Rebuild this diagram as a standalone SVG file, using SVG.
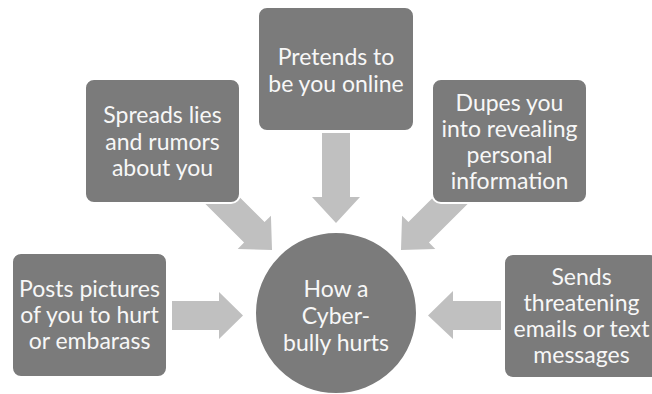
<svg xmlns="http://www.w3.org/2000/svg" width="652" height="394" viewBox="0 0 652 394">
<defs>
<style>
.box{fill:#7b7b7b;stroke:#ffffff;stroke-width:2}
.arr{fill:#c0c0c0}
.t{font-family:Lato,"Liberation Sans",sans-serif;font-size:23px;fill:#f7f7f7;text-anchor:middle}
</style>
<polygon id="diag" points="-85,-14.5 -25,-14.5 -25,-23.5 0,0 -25,23.5 -25,14.5 -85,14.5"/>
</defs>
<rect width="652" height="394" fill="#ffffff"/>
<g id="connectors">
<polygon class="arr" points="322,133 350,133 350,197 360,197 336,223 312,197 322,197"/>
<polygon class="arr" points="172,301 219,301 219,292 243,315.5 219,339 219,330 172,330"/>
<polygon class="arr" points="501,301 453,301 453,291 428,315.5 453,339 453,330 501,330"/>
<use href="#diag" class="arr" transform="translate(272,250) rotate(45)"/>
<use href="#diag" class="arr" transform="translate(401,250) rotate(135)"/>
</g>
<g id="center">
<circle class="box" cx="336" cy="313" r="81"/>
<text class="t" x="336" y="297">How a</text>
<text class="t" x="336" y="324">Cyber-</text>
<text class="t" x="336" y="351">bully hurts</text>
</g>
<g id="n-top">
<rect class="box" x="258" y="7" width="156" height="124" rx="9"/>
<text class="t" x="336" y="65">Pretends to</text>
<text class="t" x="336" y="92">be you online</text>
</g>
<g id="n-upleft">
<rect class="box" x="85" y="79" width="155" height="124" rx="9"/>
<text class="t" x="162.5" y="123">Spreads lies</text>
<text class="t" x="162.5" y="150">and rumors</text>
<text class="t" x="162.5" y="176">about you</text>
</g>
<g id="n-upright">
<rect class="box" x="432" y="79" width="155" height="124" rx="9"/>
<text class="t" x="509.5" y="111">Dupes you</text>
<text class="t" x="509.5" y="137">into revealing</text>
<text class="t" x="509.5" y="163">personal</text>
<text class="t" x="509.5" y="189">information</text>
</g>
<g id="n-left">
<rect class="box" x="12" y="253" width="155" height="124" rx="9"/>
<text class="t" x="89.5" y="297">Posts pictures</text>
<text class="t" x="89.5" y="323">of you to hurt</text>
<text class="t" x="89.5" y="349">or embarass</text>
</g>
<g id="n-right">
<rect class="box" x="504" y="254" width="155" height="124" rx="9"/>
<text class="t" x="581.5" y="285">Sends</text>
<text class="t" x="581.5" y="311">threatening</text>
<text class="t" x="581.5" y="337">emails or text</text>
<text class="t" x="581.5" y="363">messages</text>
</g>
</svg>
